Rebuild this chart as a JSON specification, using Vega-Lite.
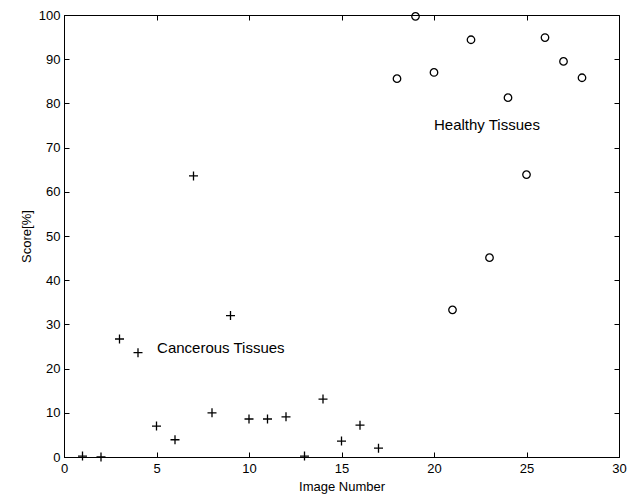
{
  "$schema": "https://vega.github.io/schema/vega-lite/v6.json",
  "width": 555,
  "height": 442,
  "autosize": {"type": "none"},
  "padding": {"left": 64, "top": 15, "right": 18, "bottom": 38},
  "background": "white",
  "config": {
    "view": {"stroke": "black", "strokeWidth": 1},
    "font": "Liberation Sans",
    "axis": {
      "grid": false,
      "domainColor": "black",
      "tickColor": "black",
      "labelColor": "black",
      "titleColor": "black",
      "labelFont": "Liberation Sans",
      "titleFont": "Liberation Sans",
      "labelFontSize": 13,
      "titleFontSize": 13,
      "titleFontWeight": "normal",
      "tickSize": -5
    }
  },
  "datasets": {
    "points": [
      {"image": 1, "score": 0.2, "tissue": "Cancerous"},
      {"image": 2, "score": 0.0, "tissue": "Cancerous"},
      {"image": 3, "score": 26.7, "tissue": "Cancerous"},
      {"image": 4, "score": 23.6, "tissue": "Cancerous"},
      {"image": 5, "score": 7.0, "tissue": "Cancerous"},
      {"image": 6, "score": 3.9, "tissue": "Cancerous"},
      {"image": 7, "score": 63.6, "tissue": "Cancerous"},
      {"image": 8, "score": 10.0, "tissue": "Cancerous"},
      {"image": 9, "score": 32.0, "tissue": "Cancerous"},
      {"image": 10, "score": 8.6, "tissue": "Cancerous"},
      {"image": 11, "score": 8.6, "tissue": "Cancerous"},
      {"image": 12, "score": 9.1, "tissue": "Cancerous"},
      {"image": 13, "score": 0.2, "tissue": "Cancerous"},
      {"image": 14, "score": 13.1, "tissue": "Cancerous"},
      {"image": 15, "score": 3.6, "tissue": "Cancerous"},
      {"image": 16, "score": 7.2, "tissue": "Cancerous"},
      {"image": 17, "score": 2.0, "tissue": "Cancerous"},
      {"image": 18, "score": 85.6, "tissue": "Healthy"},
      {"image": 19, "score": 99.7, "tissue": "Healthy"},
      {"image": 20, "score": 87.0, "tissue": "Healthy"},
      {"image": 21, "score": 33.3, "tissue": "Healthy"},
      {"image": 22, "score": 94.4, "tissue": "Healthy"},
      {"image": 23, "score": 45.1, "tissue": "Healthy"},
      {"image": 24, "score": 81.3, "tissue": "Healthy"},
      {"image": 25, "score": 63.9, "tissue": "Healthy"},
      {"image": 26, "score": 94.9, "tissue": "Healthy"},
      {"image": 27, "score": 89.5, "tissue": "Healthy"},
      {"image": 28, "score": 85.8, "tissue": "Healthy"}
    ],
    "labels": [
      {"image": 5.03, "score": 24.7, "text": "Cancerous Tissues"},
      {"image": 20.0, "score": 75.2, "text": "Healthy Tissues"}
    ]
  },
  "layer": [
    {
      "data": {"name": "points"},
      "mark": {"type": "point", "filled": false, "stroke": "black", "strokeWidth": 1.3, "opacity": 1},
      "encoding": {
        "x": {
          "field": "image", "type": "quantitative",
          "scale": {"domain": [0, 30], "nice": false, "zero": false},
          "axis": {"values": [0, 5, 10, 15, 20, 25, 30], "title": "Image Number", "labelPadding": 10, "titlePadding": 5, "labelFlush": false}
        },
        "y": {
          "field": "score", "type": "quantitative",
          "scale": {"domain": [0, 100], "nice": false},
          "axis": {"values": [0, 10, 20, 30, 40, 50, 60, 70, 80, 90, 100], "title": "Score[%]", "labelPadding": 9, "titlePadding": 5, "labelFlush": false}
        },
        "shape": {
          "field": "tissue", "type": "nominal",
          "scale": {"domain": ["Cancerous", "Healthy"], "range": ["M-1,0L1,0M0,-1L0,1", "circle"]},
          "legend": null
        },
        "size": {
          "field": "tissue", "type": "nominal",
          "scale": {"domain": ["Cancerous", "Healthy"], "range": [81, 56]},
          "legend": null
        }
      }
    },
    {
      "data": {"name": "labels"},
      "mark": {"type": "text", "align": "left", "baseline": "middle", "fontSize": 15, "font": "Liberation Sans", "color": "black"},
      "encoding": {
        "x": {"field": "image", "type": "quantitative", "axis": {"orient": "top", "values": [0, 5, 10, 15, 20, 25, 30], "labels": false, "title": null, "domain": false}},
        "y": {"field": "score", "type": "quantitative", "axis": {"orient": "right", "values": [0, 10, 20, 30, 40, 50, 60, 70, 80, 90, 100], "labels": false, "title": null, "domain": false}},
        "text": {"field": "text", "type": "nominal"}
      }
    }
  ],
  "resolve": {"axis": {"x": "independent", "y": "independent"}}
}
